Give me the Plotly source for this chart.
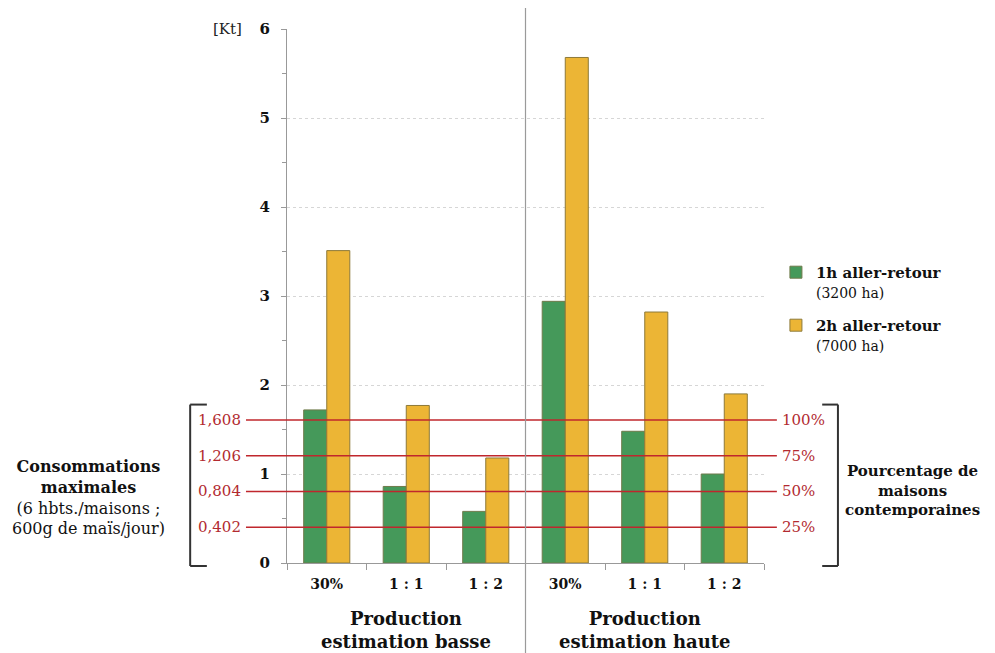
import plotly.graph_objects as go

# ---- data ----
categories = ["30%", "1 : 1", "1 : 2", "30%", "1 : 1", "1 : 2"]
groups = ["Production<br>estimation basse", "Production<br>estimation haute"]
series_1h = [1.72, 0.86, 0.58, 2.94, 1.48, 1.00]
series_2h = [3.51, 1.77, 1.18, 5.68, 2.82, 1.90]
series_names = ["<b>1h aller-retour</b><br><span style='font-size:14px'>(3200 ha)</span>",
                "<b>2h aller-retour</b><br><span style='font-size:14px'>(7000 ha)</span>"]
consumption_levels = [1.608, 1.206, 0.804, 0.402]
consumption_labels = ["1,608", "1,206", "0,804", "0,402"]
percent_labels = ["100%", "75%", "50%", "25%"]
y_ticks = [0, 1, 2, 3, 4, 5, 6]

GREEN = "#45995a"
YELLOW = "#ecb535"
RED = "#c0272d"
RED_TXT = "#b22a30"
FONT = "DejaVu Serif"

x = list(range(len(categories)))
fig = go.Figure()
fig.add_trace(go.Bar(x=x, y=series_1h, name=series_names[0], legendgroup="a",
                     marker=dict(color=GREEN, line=dict(color="#6f7a4a", width=1))))
fig.add_trace(go.Bar(x=x, y=series_2h, name=series_names[1], legendgroup="b",
                     marker=dict(color=YELLOW, line=dict(color="#8d7a3a", width=1))))

shapes = []
annotations = []
# red consumption lines
for v, lab, pl in zip(consumption_levels, consumption_labels, percent_labels):
    shapes.append(dict(type="line", xref="paper", yref="y", x0=-0.086, x1=1.027, y0=v, y1=v,
                       line=dict(color=RED, width=1.5), layer="above"))
    annotations.append(dict(xref="paper", yref="y", x=-0.092, y=v, text=lab, showarrow=False,
                            xanchor="right", yanchor="middle", font=dict(color=RED_TXT, size=15, family=FONT)))
    annotations.append(dict(xref="paper", yref="y", x=1.034, y=v, text=pl, showarrow=False,
                            xanchor="left", yanchor="middle", font=dict(color=RED_TXT, size=15, family=FONT)))

# brackets
ytop = 1.78 / 6
ybot = -0.0056
for xs, xe in [(-0.203, -0.168), (1.155, 1.122)]:
    shapes.append(dict(type="line", xref="paper", yref="paper", x0=xs, x1=xs, y0=ybot, y1=ytop, line=dict(color="#333", width=2)))
    shapes.append(dict(type="line", xref="paper", yref="paper", x0=xs, x1=xe, y0=ytop, y1=ytop, line=dict(color="#333", width=2)))
    shapes.append(dict(type="line", xref="paper", yref="paper", x0=xs, x1=xe, y0=ybot, y1=ybot, line=dict(color="#333", width=2)))

# divider between groups
shapes.append(dict(type="line", xref="x", yref="paper", x0=2.5, x1=2.5, y0=-0.17, y1=1.05,
                   line=dict(color="#9a9a9a", width=1.2)))

# group labels
for gx, g in zip([1, 4], groups):
    annotations.append(dict(xref="x", yref="paper", x=gx, y=-0.126, text="<b>" + g + "</b>", showarrow=False,
                            xanchor="center", yanchor="middle", font=dict(size=18, family=FONT, color="#111")))

annotations.append(dict(xref="paper", yref="y", x=-0.09, y=6, text="[Kt]", showarrow=False,
                        xanchor="right", yanchor="middle", font=dict(size=15, family=FONT, color="#222")))
annotations.append(dict(xref="paper", yref="paper", x=-0.417, y=0.122,
                        text="<b>Consommations<br>maximales</b><br>(6 hbts./maisons ;<br>600g de maïs/jour)",
                        showarrow=False, xanchor="center", yanchor="middle", align="center",
                        font=dict(size=16, family=FONT, color="#111")))
annotations.append(dict(xref="paper", yref="paper", x=1.311, y=0.135,
                        text="<b>Pourcentage de<br>maisons<br>contemporaines</b>",
                        showarrow=False, xanchor="center", yanchor="middle", align="center",
                        font=dict(size=15, family=FONT, color="#111")))

fig.update_layout(
    width=979, height=645,
    margin=dict(l=279, r=223, t=15, b=90),
    paper_bgcolor="white", plot_bgcolor="white",
    barmode="group", bargap=0.42, bargroupgap=0,
    font=dict(family=FONT, color="#111"),
    shapes=shapes, annotations=annotations,
    legend=dict(x=1.025, y=0.575, xanchor="left", yanchor="top", valign="top",
                bgcolor="rgba(0,0,0,0)", font=dict(size=15, family=FONT, color="#111"),
                tracegroupgap=11, itemwidth=30),
    xaxis=dict(range=[-0.5, 5.5], tickvals=x, ticktext=["<b>" + c + "</b>" for c in categories],
               ticks="", showline=True, linecolor="#999", linewidth=1, showgrid=False, zeroline=False,
               tickfont=dict(size=14, family=FONT, color="#111"), ticklabelstandoff=8,
               minor=dict(tickvals=[i - 0.5 for i in range(7)], ticks="outside", ticklen=6, tickcolor="#999")),
    yaxis=dict(range=[0, 6], tickvals=y_ticks, ticktext=["<b>%d</b>" % t for t in y_ticks],
               ticks="outside", ticklen=5, tickcolor="#999", showline=True, linecolor="#999", linewidth=1,
               showgrid=True, gridcolor="#d6d6d6", griddash="dot", zeroline=False,
               tickfont=dict(size=15, family=FONT, color="#111"), ticklabelstandoff=8,
               minor=dict(dtick=0.5, ticks="outside", ticklen=4, tickcolor="#999", showgrid=False)),
)
fig.write_html("out.html")
